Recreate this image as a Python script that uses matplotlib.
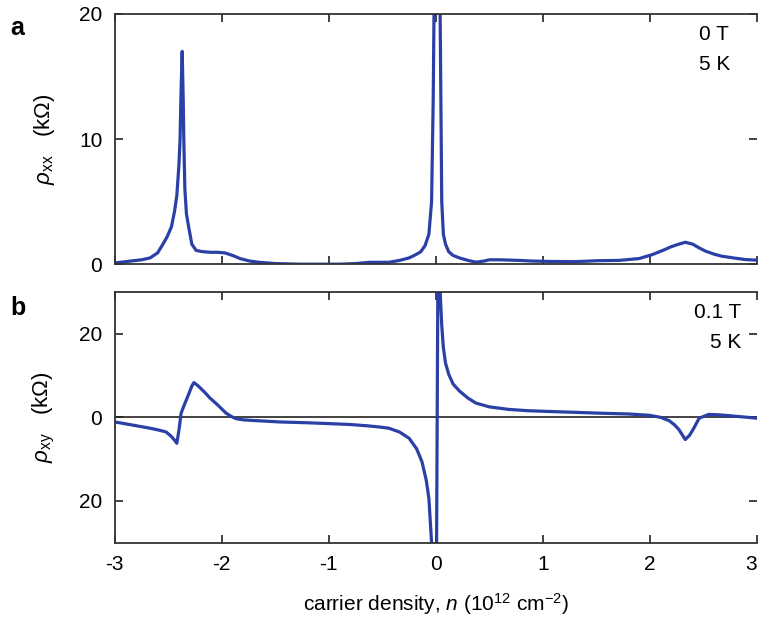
import numpy as np
import matplotlib.pyplot as plt

plt.rcParams['font.family'] = ['Liberation Sans', 'DejaVu Sans']
plt.rcParams['mathtext.fontset'] = 'custom'
plt.rcParams['mathtext.rm'] = 'Liberation Sans'
plt.rcParams['mathtext.it'] = 'Liberation Sans:italic'

# carrier density (1e12 cm^-2) and rho_xx (kOhm), 0 T
n_xx = [-3.0, -2.86, -2.75, -2.67, -2.6, -2.55, -2.51, -2.47, -2.44, -2.42, -2.40, -2.39,
        -2.38, -2.37, -2.36, -2.355, -2.345, -2.33, -2.31, -2.28, -2.24, -2.18, -2.11,
        -2.04, -1.97, -1.90, -1.83, -1.74, -1.65, -1.5, -1.27, -1.1, -0.9, -0.75, -0.62,
        -0.44, -0.34, -0.25, -0.19, -0.14, -0.1, -0.065, -0.04, -0.025, -0.015, 0.0,
        0.02, 0.04, 0.055, 0.07, 0.09, 0.12, 0.16, 0.22, 0.3, 0.375, 0.45, 0.5, 0.6,
        0.78, 0.9, 1.06, 1.3, 1.52, 1.71, 1.9, 2.02, 2.12, 2.2, 2.27, 2.33, 2.4, 2.46,
        2.52, 2.6, 2.67, 2.78, 2.89, 3.0]
rho_xx = [0.1, 0.24, 0.35, 0.5, 0.9, 1.6, 2.2, 3.0, 4.3, 5.5, 8.0, 10.0,
          14.0, 17.0, 13.0, 10.0, 6.0, 4.0, 3.0, 1.6, 1.1, 1.0, 0.95,
          0.95, 0.9, 0.7, 0.45, 0.25, 0.15, 0.05, 0.0, 0.0, 0.0, 0.05, 0.15,
          0.15, 0.3, 0.5, 0.75, 1.0, 1.5, 2.4, 5.0, 13.0, 22.0, 40.0,
          40.0, 20.0, 5.0, 2.4, 1.6, 1.0, 0.7, 0.5, 0.3, 0.16, 0.25, 0.35, 0.35,
          0.3, 0.25, 0.22, 0.2, 0.28, 0.3, 0.45, 0.76, 1.1, 1.4, 1.6, 1.75, 1.6, 1.3,
          1.04, 0.8, 0.64, 0.5, 0.37, 0.32]

# carrier density and rho_xy (kOhm), 0.1 T
n_xy = [-3.0, -2.8, -2.67, -2.58, -2.52, -2.47, -2.44, -2.42, -2.40, -2.38, -2.35, -2.31,
        -2.28, -2.26, -2.22, -2.16, -2.11, -2.04, -1.96, -1.91, -1.87, -1.80, -1.74, -1.46,
        -1.2, -1.0, -0.81, -0.65, -0.53, -0.44, -0.34, -0.25, -0.18, -0.13, -0.09,
        -0.065, -0.04, -0.03, 0.005, 0.02, 0.04, 0.055, 0.07, 0.09, 0.12, 0.16, 0.22,
        0.3, 0.375, 0.5, 0.68, 0.85, 1.06, 1.3, 1.52, 1.8, 1.99, 2.1, 2.18, 2.23, 2.27,
        2.33, 2.37, 2.41, 2.46, 2.55, 2.65, 2.74, 2.87, 3.0]
rho_xy = [-1.1, -2.0, -2.6, -3.1, -3.5, -4.6, -5.5, -6.2, -3.0, 1.0, 3.0, 5.5,
          7.5, 8.3, 7.5, 6.0, 4.6, 3.0, 1.0, 0.2, -0.3, -0.6, -0.7, -1.1,
          -1.3, -1.5, -1.7, -2.0, -2.3, -2.6, -3.5, -5.0, -7.5, -10.6, -15.0,
          -19.4, -30.0, -36.0, -40.0, 40.0, 30.0, 22.0, 16.7, 13.0, 10.3, 8.0, 6.3,
          4.6, 3.4, 2.5, 1.9, 1.6, 1.4, 1.2, 1.0, 0.8, 0.5, 0.0, -0.8, -1.8, -2.9,
          -5.3, -4.3, -2.6, -0.2, 0.7, 0.6, 0.4, 0.1, -0.2]

line_color = '#2a40a6'
spine_color = '#333333'
fs = 15

fig = plt.figure(figsize=(7.6, 6.29), dpi=100)
ax1 = fig.add_axes([0.151, 0.580, 0.845, 0.398])
ax2 = fig.add_axes([0.151, 0.137, 0.845, 0.399])

for ax in (ax1, ax2):
    ax.set_xlim(-3, 3)
    ax.set_xticks([-3, -2, -1, 0, 1, 2, 3])
    ax.tick_params(direction='in', length=6, width=1.2, top=True, right=True,
                   labelsize=fs, color='#222222', pad=9)
    for side in ('left', 'top', 'bottom'):
        ax.spines[side].set_color(spine_color)
        ax.spines[side].set_linewidth(1.3)
    ax.spines['right'].set_visible(False)

# panel a
ax1.plot(n_xx, rho_xx, color=line_color, lw=2.3)
ax1.set_ylim(0, 20)
ax1.set_yticks([0, 10, 20])
ax1.tick_params(labelbottom=False)
ax1.set_ylabel(r'$\rho_{\rm xx}$   (k$\Omega$)', fontsize=16, labelpad=16)
ax1.text(0.91, 0.955, '0 T', transform=ax1.transAxes, fontsize=fs, va='top', ha='left')
ax1.text(0.91, 0.835, '5 K', transform=ax1.transAxes, fontsize=fs, va='top', ha='left')
fig.text(0.013, 0.975, 'a', fontsize=18, fontweight='bold', va='top')

# panel b
ax2.axhline(0, color='#222222', lw=1.2, zorder=1)
ax2.plot(n_xy, rho_xy, color=line_color, lw=2.3, zorder=2)
ax2.set_ylim(-30, 30)
ax2.set_yticks([-20, 0, 20])
ax2.set_yticklabels(['20', '0', '20'])
ax2.set_xticklabels(['-3', '-2', '-1', '0', '1', '2', '3'])
ax2.get_xticklabels()[-1].set_horizontalalignment('right')
ax2.set_ylabel(r'$\rho_{\rm xy}$   (k$\Omega$)', fontsize=16, labelpad=16)
ax2.text(0.975, 0.955, '0.1 T', transform=ax2.transAxes, fontsize=fs, va='top', ha='right')
ax2.text(0.975, 0.835, '5 K', transform=ax2.transAxes, fontsize=fs, va='top', ha='right')
ax2.set_xlabel(r'carrier density, $n$ (10$^{12}$ cm$^{-2}$)', fontsize=fs, labelpad=12)
fig.text(0.013, 0.53, 'b', fontsize=18, fontweight='bold', va='top')

fig.savefig('out.png', dpi=100)
